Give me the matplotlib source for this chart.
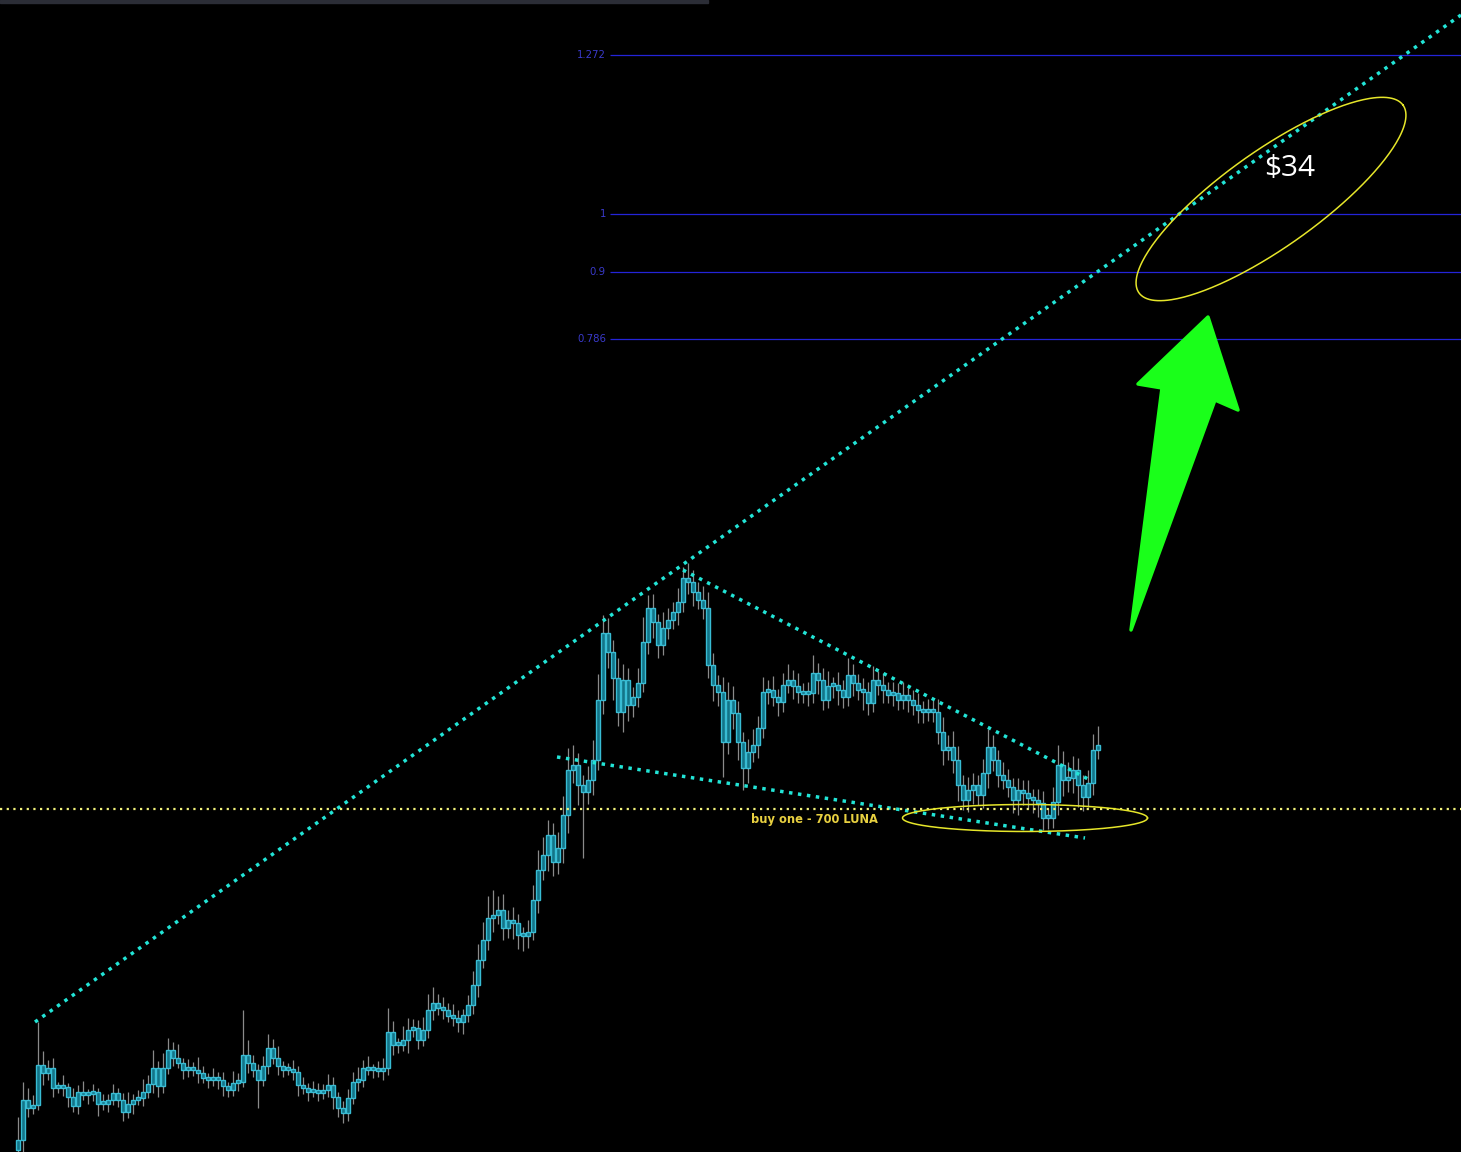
import numpy as np
import matplotlib.pyplot as plt
from matplotlib.patches import Polygon, Rectangle

# LUNA chart - price in chart units, one value per candle
first_open = 0.2
closes = [
    1.2, 5.2, 4.4, 4.7, 8.7, 7.9, 8.4, 6.4, 6.4, 6.5,
    5.5, 4.6, 6.0, 5.7, 5.8, 6.0, 4.8, 4.8, 5.2, 5.9,
    5.2, 4.0, 4.8, 5.2, 5.4, 6.0, 6.8, 8.4, 6.6, 8.4,
    10.2, 9.4, 8.9, 8.2, 8.4, 8.2, 7.9, 7.4, 7.2, 7.4,
    7.2, 6.6, 6.2, 6.9, 7.0, 9.7, 8.9, 8.2, 7.2, 8.6,
    10.4, 9.4, 8.6, 8.2, 8.2, 8.0, 6.7, 6.4, 6.0, 6.2,
    5.9, 6.2, 6.7, 5.5, 4.4, 3.9, 5.4, 7.0, 7.2, 8.4,
    8.2, 8.2, 8.1, 8.4, 12.0, 10.7, 10.7, 11.2, 12.2, 12.4,
    11.2, 12.2, 14.2, 14.9, 14.4, 14.2, 13.6, 13.4, 13.0, 13.7,
    14.7, 16.7, 19.2, 21.2, 23.4, 23.7, 24.2, 22.4, 23.2, 22.9,
    21.7, 21.6, 22.0, 25.2, 28.2, 29.7, 31.7, 29.0, 30.4, 33.7,
    38.2, 38.7, 36.7, 36.0, 37.2, 39.2, 45.2, 51.9, 50.0, 47.4,
    44.0, 47.2, 44.7, 45.5, 46.9, 51.0, 54.4, 53.0, 50.7, 52.4,
    53.2, 54.0, 55.0, 57.4, 57.0, 56.0, 55.2, 54.4, 48.7, 46.7,
    46.0, 41.0, 45.2, 43.9, 41.0, 38.4, 40.0, 40.7, 42.4, 46.0,
    46.2, 45.5, 45.0, 46.7, 47.2, 46.6, 46.0, 45.8, 45.9, 47.9,
    47.2, 45.2, 46.6, 46.7, 46.2, 45.5, 47.7, 46.9, 46.2, 46.0,
    44.9, 47.2, 46.7, 46.2, 45.7, 45.9, 45.2, 45.7, 45.2, 44.7,
    44.2, 44.0, 44.2, 44.0, 42.0, 40.2, 40.5, 39.2, 36.7, 35.2,
    36.2, 36.7, 35.7, 37.9, 40.5, 39.2, 37.7, 37.2, 36.5, 35.2,
    36.2, 35.9, 35.4, 35.2, 34.9, 33.4, 33.4, 35.0, 38.7, 37.2,
    37.4, 38.2, 36.7, 35.5, 36.9, 40.2, 40.7,
]
wick_up = [
    2.3, 1.8, 1.2, 1.0, 4.3, 1.4, 0.8, 1.0, 0.6, 1.2,
    0.4, 0.9, 0.7, 1.1, 0.5, 0.8, 0.4, 1.0, 0.6, 0.9,
    0.5, 0.7, 1.2, 0.6, 0.8, 1.3, 0.9, 1.8, 0.7, 1.5,
    1.2, 0.8, 1.4, 0.5, 0.9, 0.6, 1.3, 0.7, 0.5, 1.0,
    0.6, 0.8, 0.4, 1.2, 0.9, 4.5, 1.5, 0.8, 0.6, 1.0,
    1.4, 0.9, 1.2, 0.5, 0.7, 1.0, 0.6, 0.8, 0.5, 0.9,
    0.7, 0.6, 1.1, 0.8, 0.5, 0.7, 0.9, 1.0, 1.3, 0.8,
    1.2, 0.6, 0.9, 1.0, 2.4, 1.1, 0.7, 1.4, 1.2, 0.9,
    0.8, 1.3, 1.6, 1.6, 0.9, 1.1, 0.7, 1.2, 0.8, 0.6,
    1.0, 1.4, 1.6, 1.8, 2.2, 2.5, 1.4, 1.6, 1.0, 1.3,
    0.9, 0.8, 1.2, 1.5, 2.0, 1.8, 1.5, 1.2, 1.6, 1.9,
    2.2, 2.0, 1.2, 1.0, 1.4, 2.0, 2.6, 1.8, 1.5, 1.2,
    2.0, 1.6, 1.2, 1.0, 1.5, 2.5, 1.3, 1.4, 0.8, 1.6,
    1.2, 1.0, 1.4, 1.1, 1.5, 1.2, 1.0, 1.4, 1.6, 1.2,
    1.0, 1.5, 1.8, 1.4, 1.2, 1.0, 1.3, 1.6, 1.2, 1.5,
    1.0, 1.4, 0.8, 1.2, 1.6, 1.0, 1.3, 0.9, 1.1, 1.8,
    1.0, 1.2, 1.5, 0.8, 1.3, 1.0, 1.7, 1.1, 0.9, 1.2,
    1.0, 1.4, 0.9, 1.2, 0.8, 1.1, 1.0, 1.3, 0.8, 1.0,
    1.2, 0.9, 1.1, 1.0, 1.3, 1.5, 1.2, 1.6, 1.4, 1.0,
    1.3, 1.2, 1.0, 1.4, 1.8, 1.2, 1.0, 1.3, 1.1, 0.9,
    1.2, 1.0, 1.3, 0.9, 1.1, 1.2, 1.0, 1.5, 2.0, 1.4,
    1.6, 1.4, 1.2, 1.0, 1.3, 1.6, 1.9,
]
wick_dn = [
    0.2, 1.3, 0.9, 0.6, 0.5, 1.2, 0.7, 0.9, 0.5, 0.8,
    1.0, 0.6, 0.8, 0.5, 0.9, 0.7, 1.2, 0.6, 0.8, 0.5,
    0.7, 0.9, 0.6, 1.0, 0.5, 0.8, 0.6, 0.9, 1.1, 0.7,
    0.6, 0.8, 0.5, 0.9, 0.7, 0.6, 1.0, 0.5, 0.8, 0.6,
    0.9, 1.0, 0.7, 0.6, 0.8, 0.5, 1.0, 0.7, 2.8, 0.6,
    0.8, 0.6, 0.9, 0.7, 0.5, 0.8, 1.1, 0.6, 0.9, 0.5,
    0.8, 0.6, 0.7, 1.2, 0.9, 1.0, 0.8, 0.6, 0.9, 0.7,
    0.5, 0.8, 0.6, 0.9, 0.7, 1.0, 0.8, 0.6, 1.3, 0.7,
    0.9, 0.6, 0.8, 1.0, 0.7, 0.9, 0.6, 0.8, 1.0, 1.2,
    0.7, 0.9, 1.2, 0.8, 1.0, 1.4, 0.9, 1.2, 1.0, 1.6,
    1.4, 1.5, 1.2, 0.8, 1.3, 1.0, 1.6, 1.4, 1.2, 1.5,
    1.8, 1.3, 2.0, 6.6, 1.2, 1.5, 1.0, 1.4, 1.6, 2.2,
    1.4, 2.0, 1.6, 1.2, 1.0, 0.9, 1.2, 1.6, 1.3, 1.0,
    1.1, 0.9, 1.3, 1.0, 1.2, 1.4, 0.9, 1.1, 1.3, 1.6,
    1.4, 3.5, 1.2, 1.6, 1.8, 2.2, 1.5, 1.0, 1.3, 1.0,
    1.2, 0.9, 1.4, 1.0, 0.8, 1.3, 1.1, 0.9, 1.2, 1.0,
    1.4, 1.0, 0.8, 1.2, 1.5, 1.1, 0.9, 1.3, 1.0, 1.8,
    1.2, 0.9, 1.0, 1.3, 0.8, 1.1, 1.0, 0.9, 1.2, 1.0,
    1.3, 1.1, 0.9, 1.0, 1.2, 1.5, 1.0, 1.3, 1.6, 1.0,
    1.2, 1.4, 1.0, 1.3, 1.5, 1.1, 1.2, 0.9, 1.0, 1.3,
    1.5, 1.2, 1.0, 1.3, 1.4, 1.2, 1.1, 1.0, 1.3, 1.6,
    1.2, 1.5, 2.2, 1.4, 1.0, 1.2, 0.9,
]

# fibonacci extension
fib_levels = [1.272, 1, 0.9, 0.786]
fib_labels = ["1.272", "1", "0.9", "0.786"]
fib_low, fib_high = 35.4, 93.8
fib_start = 118.4

# trend lines (bar index, price)
rise_line = ([3.4, 288.6], [13.0, 113.7])
upper_line = ([133.0, 214.4], [58.2, 37.2])
lower_line = ([107.8, 213.4], [39.5, 31.4])
buy_price = 34.3

# annotations: ellipses (center idx, center price, semi-axes px, angle deg)
target_ellipse = (250.6, 95.3, 162, 48, 35.4)
buy_ellipse = (201.4, 33.4, 122.5, 13.5, 0)
arrow_pts = [(222.6, 52.2), (228.8, 76.4), (224.0, 76.8), (238.0, 83.5),
             (244.0, 74.2), (239.4, 75.2)]

PX_X, PX_Y = 5.0, 10.0   # pixels per bar, pixels per price unit

fig = plt.figure(figsize=(14.61, 11.52), dpi=100, facecolor="black")
ax = fig.add_axes([0, 0, 1, 1])
ax.set_facecolor("black")
ax.set_xlim(-3.6, 288.6)
ax.set_ylim(0, 115.2)
ax.axis("off")

# candles
closes = np.array(closes)
opens = np.concatenate([[first_open], closes[:-1]])
idx = np.arange(len(closes))
top = np.maximum(opens, closes)
bot = np.minimum(opens, closes)
highs = top + np.array(wick_up)
lows = bot - np.array(wick_dn)
ax.vlines(idx, lows, highs, color="#8a8a8a", lw=0.9, zorder=2)
heights = np.maximum(top - bot, 0.3)
ax.bar(idx, heights, bottom=bot, width=0.62, color="#137488",
       edgecolor="#38bcd4", linewidth=1.0, zorder=3)

# fib lines
for lvl, lab in zip(fib_levels, fib_labels):
    p = fib_low + lvl * (fib_high - fib_low)
    ax.hlines(p, fib_start, 288.6, color="#2424d8", lw=0.9, zorder=1)
    ax.text(fib_start - 0.8, p, lab, color="#3a3acc", fontsize=7.3,
            ha="right", va="center")

# dotted trend lines
for xs, ys in [rise_line, upper_line, lower_line]:
    ax.plot(xs, ys, color="#22e4d6", lw=2.5, linestyle=(0, (1, 1.6)),
            dash_capstyle="butt", zorder=4)
ax.plot([-3.6, 288.6], [buy_price, buy_price], color="#f2f27a", lw=1.6,
        linestyle=(0, (1, 2.0)), dash_capstyle="butt", zorder=4)

# ellipses
t = np.linspace(0, 2 * np.pi, 300)
for cx, cy, a, b, ang in [target_ellipse, buy_ellipse]:
    th = np.radians(ang)
    ex = cx + (a * np.cos(t) * np.cos(th) - b * np.sin(t) * np.sin(th)) / PX_X
    ey = cy + (a * np.cos(t) * np.sin(th) + b * np.sin(t) * np.cos(th)) / PX_Y
    ax.plot(ex, ey, color="#e6e62a", lw=1.1, zorder=5)

# green arrow
ax.add_patch(Polygon(arrow_pts, closed=True, facecolor="#1aff1a",
                     edgecolor="#1aff1a", lw=2.5, joinstyle="round", zorder=6))

# texts
ax.text(254.4, 98.4, "$34", color="white", fontsize=21.5, family="Open Sans",
        ha="center", va="center", zorder=7)
ax.text(159.2, 33.2, "buy one - 700 LUNA", color="#e8d040", fontsize=8.3,
        fontweight="bold", ha="center", va="center", zorder=7)

# toolbar strip at the top
fig.patches.append(Rectangle((0, 1 - 3 / 1152), 708 / 1461, 3 / 1152,
                             transform=fig.transFigure, color="#2b2d36"))

fig.savefig("out.png", dpi=100, facecolor="black")
